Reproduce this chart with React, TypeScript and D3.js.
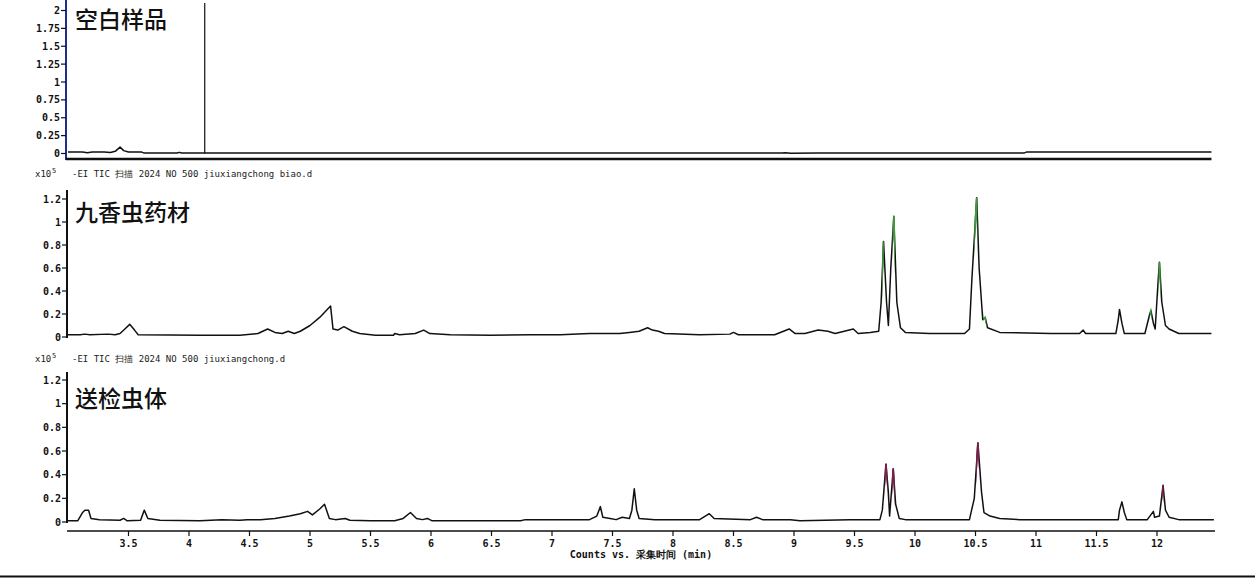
import React from 'react';
import * as d3 from 'd3';

// chromatogram traces, [time (min), counts x10^5]
const blankTrace: [number, number][] = [
  [3.0, 0.02], [3.12, 0.02], [3.16, 0.012], [3.2, 0.02], [3.3, 0.02], [3.35, 0.015],
  [3.39, 0.03], [3.43, 0.09], [3.46, 0.04], [3.5, 0.02], [3.61, 0.02], [3.63, 0.006],
  [3.9, 0.006], [3.92, 0.016], [3.94, 0.006], [8.9, 0.006], [8.93, 0.012], [8.97, 0.004],
  [9.2, 0.006], [10.9, 0.006], [10.92, 0.02], [12.45, 0.02],
];

const herbTrace: [number, number][] = [
  [3.0, 0.02], [3.1, 0.02], [3.14, 0.025], [3.18, 0.02], [3.33, 0.025], [3.39, 0.02],
  [3.43, 0.03], [3.47, 0.07], [3.51, 0.11], [3.55, 0.06], [3.58, 0.02], [4.09, 0.015],
  [4.42, 0.015], [4.57, 0.03], [4.65, 0.07], [4.71, 0.04], [4.77, 0.03], [4.82, 0.05],
  [4.87, 0.03], [4.92, 0.05], [5.0, 0.1], [5.08, 0.17], [5.17, 0.27], [5.19, 0.07],
  [5.23, 0.06], [5.28, 0.09], [5.35, 0.05], [5.41, 0.03], [5.54, 0.015], [5.69, 0.015],
  [5.7, 0.03], [5.74, 0.02], [5.87, 0.03], [5.94, 0.06], [5.99, 0.03], [6.16, 0.02],
  [6.49, 0.015], [6.82, 0.02], [7.07, 0.02], [7.31, 0.03], [7.56, 0.03], [7.64, 0.04],
  [7.72, 0.05], [7.79, 0.08], [7.83, 0.06], [7.88, 0.05], [7.93, 0.03], [8.22, 0.02],
  [8.47, 0.025], [8.5, 0.04], [8.54, 0.02], [8.84, 0.02], [8.96, 0.07], [9.01, 0.03],
  [9.09, 0.03], [9.2, 0.06], [9.28, 0.05], [9.34, 0.03], [9.49, 0.07], [9.53, 0.03],
  [9.63, 0.04], [9.7, 0.05], [9.72, 0.3], [9.74, 0.83], [9.765, 0.3], [9.78, 0.1],
  [9.8, 0.6], [9.825, 1.05], [9.85, 0.3], [9.88, 0.08], [9.92, 0.04], [10.12, 0.03],
  [10.41, 0.03], [10.45, 0.07], [10.47, 0.5], [10.51, 1.21], [10.53, 0.6], [10.56, 0.15],
  [10.58, 0.17], [10.6, 0.08], [10.7, 0.04], [11.12, 0.03], [11.36, 0.03], [11.39, 0.06],
  [11.41, 0.03], [11.66, 0.03], [11.68, 0.15], [11.69, 0.24], [11.71, 0.12], [11.73, 0.03],
  [11.9, 0.03], [11.94, 0.2], [11.95, 0.23], [11.97, 0.12], [11.985, 0.07], [12.01, 0.5],
  [12.02, 0.65], [12.04, 0.3], [12.07, 0.1], [12.1, 0.07], [12.18, 0.03], [12.45, 0.03],
];

const sampleTrace: [number, number][] = [
  [3.0, 0.01], [3.08, 0.01], [3.12, 0.08], [3.14, 0.1], [3.17, 0.1], [3.19, 0.03],
  [3.26, 0.02], [3.43, 0.015], [3.46, 0.03], [3.49, 0.01], [3.6, 0.015], [3.63, 0.1],
  [3.66, 0.03], [3.76, 0.015], [4.09, 0.01], [4.27, 0.02], [4.42, 0.015], [4.48, 0.02],
  [4.59, 0.02], [4.71, 0.03], [4.83, 0.05], [4.92, 0.07], [4.98, 0.09], [5.02, 0.06],
  [5.08, 0.11], [5.12, 0.15], [5.16, 0.03], [5.21, 0.02], [5.29, 0.03], [5.33, 0.015],
  [5.5, 0.01], [5.7, 0.01], [5.77, 0.03], [5.83, 0.08], [5.88, 0.03], [5.93, 0.02],
  [5.97, 0.03], [6.01, 0.01], [6.74, 0.01], [6.78, 0.02], [7.07, 0.02], [7.31, 0.02],
  [7.37, 0.05], [7.4, 0.13], [7.42, 0.04], [7.48, 0.03], [7.53, 0.02], [7.58, 0.04],
  [7.64, 0.03], [7.66, 0.1], [7.68, 0.28], [7.7, 0.1], [7.72, 0.03], [7.85, 0.02],
  [8.22, 0.02], [8.3, 0.07], [8.34, 0.03], [8.64, 0.02], [8.69, 0.04], [8.74, 0.02],
  [8.97, 0.02], [9.05, 0.01], [9.46, 0.02], [9.71, 0.02], [9.73, 0.1], [9.76, 0.49],
  [9.78, 0.25], [9.79, 0.05], [9.82, 0.45], [9.84, 0.15], [9.87, 0.03], [9.92, 0.02],
  [10.45, 0.02], [10.49, 0.2], [10.52, 0.67], [10.55, 0.25], [10.57, 0.08], [10.62, 0.05],
  [10.7, 0.03], [10.87, 0.02], [11.68, 0.02], [11.69, 0.1], [11.71, 0.17], [11.73, 0.08],
  [11.75, 0.02], [11.92, 0.02], [11.97, 0.09], [11.98, 0.04], [12.02, 0.05], [12.05, 0.31],
  [12.07, 0.1], [12.1, 0.04], [12.18, 0.02], [12.47, 0.02],
];

// time windows drawn in colour (identified compounds)
const herbMarked: [number, number][] = [
  [9.728, 9.742], [9.815, 9.835], [10.49, 10.515], [10.565, 10.59], [11.94, 11.955], [12.012, 12.03],
];
const sampleMarked: [number, number][] = [
  [9.75, 9.772], [9.81, 9.832], [10.505, 10.53], [12.04, 12.055],
];

const blankMarker = 4.13;

const blankTicks = [0, 0.25, 0.5, 0.75, 1, 1.25, 1.5, 1.75, 2];
const herbTicks = [0, 0.2, 0.4, 0.6, 0.8, 1, 1.2];
const timeTicks = [3.5, 4, 4.5, 5, 5.5, 6, 6.5, 7, 7.5, 8, 8.5, 9, 9.5, 10, 10.5, 11, 11.5, 12];

const W = 1255;
const H = 578;
const mono = '"DejaVu Sans Mono", "Liberation Mono", monospace';
const cjk = '"Noto Sans CJK SC", "Noto Sans", sans-serif';

const x = d3.scaleLinear().domain([3, 12.5]).range([68, 1217.5]);

type PanelProps = {
  trace: [number, number][];
  y: d3.ScaleLinear<number, number>;
  ticks: number[];
  axisX: number;
  axisTop: number;
  axisBottom: number;
  axisColor: string;
  title: string;
  titleY: number;
  marked?: [number, number][];
  markColor?: string;
  id: string;
};

const Panel: React.FC<PanelProps> = ({
  trace, y, ticks, axisX, axisTop, axisBottom, axisColor, title, titleY, marked, markColor, id,
}) => {
  const line = d3.line<[number, number]>()
    .x(d => x(d[0]))
    .y(d => y(d[1]));
  const d = line(trace) || '';
  return (
    <g>
      <line x1={axisX} x2={axisX} y1={axisTop} y2={axisBottom} stroke={axisColor} strokeWidth={2} />
      {ticks.map(t => (
        <g key={t} transform={`translate(0,${y(t)})`}>
          <line x1={axisX - 5} x2={axisX} stroke="#111" strokeWidth={1.2} />
          <text x={axisX - 6} dy="0.35em" textAnchor="end" fontFamily={mono} fontWeight="bold"
            fontSize={10} fill="#111">{String(t)}</text>
        </g>
      ))}
      <text x={75} y={titleY} fontFamily={cjk} fontSize={23} fontWeight={500} fill="#111">{title}</text>
      <path d={d} fill="none" stroke="#111" strokeWidth={1.5} strokeLinejoin="round" />
      {marked && (
        <>
          <clipPath id={id}>
            {marked.map(([a, b]) => (
              <rect key={a} x={x(a)} width={x(b) - x(a)} y={0} height={H} />
            ))}
          </clipPath>
          <path d={d} fill="none" stroke={markColor} strokeWidth={1.8} clipPath={`url(#${id})`} />
        </>
      )}
    </g>
  );
};

const Header: React.FC<{ y: number; file: string }> = ({ y, file }) => (
  <g fontFamily={mono} fontSize={9} fill="#222">
    <text x={35} y={y}>x10</text>
    <text x={52} y={y - 4} fontSize={7}>5</text>
    <text x={72} y={y}>{`-EI TIC 扫描 2024 NO 500 ${file}`}</text>
  </g>
);

export default function App() {
  const yBlank = d3.scaleLinear().domain([0, 2]).range([153.5, 10.5]);
  const yHerb = d3.scaleLinear().domain([0, 1.2]).range([337, 199]);
  const ySample = d3.scaleLinear().domain([0, 1.2]).range([522, 380]);
  const axisY = 531;

  return (
    <svg width={W} height={H} style={{ position: 'absolute', left: 0, top: 0, background: '#fff' }}>
      <rect width={W} height={H} fill="#fff" />

      {/* blank sample */}
      <Panel trace={blankTrace} y={yBlank} ticks={blankTicks} axisX={66} axisTop={0} axisBottom={160}
        axisColor="#1c2f8f" title="空白样品" titleY={28} id="c0" />
      <line x1={x(blankMarker)} x2={x(blankMarker)} y1={3} y2={yBlank(0)} stroke="#111" strokeWidth={1.2} />
      <line x1={66} x2={x(12.45)} y1={159} y2={159} stroke="#111" strokeWidth={2.5} />

      {/* herb */}
      <Header y={177} file="jiuxiangchong biao.d" />
      <Panel trace={herbTrace} y={yHerb} ticks={herbTicks} axisX={67} axisTop={190} axisBottom={338}
        axisColor="#111" title="九香虫药材" titleY={221} marked={herbMarked} markColor="#3f9b3a" id="c1" />

      {/* submitted sample */}
      <Header y={362} file="jiuxiangchong.d" />
      <Panel trace={sampleTrace} y={ySample} ticks={herbTicks} axisX={67} axisTop={372} axisBottom={523}
        axisColor="#111" title="送检虫体" titleY={407} marked={sampleMarked} markColor="#7a1f4c" id="c2" />

      {/* time axis */}
      <line x1={67} x2={1215} y1={axisY} y2={axisY} stroke="#111" strokeWidth={1.5} />
      {timeTicks.map(t => (
        <g key={t} transform={`translate(${x(t)},${axisY})`}>
          <line y1={0} y2={5} stroke="#111" strokeWidth={1.2} />
          <text y={16} textAnchor="middle" fontFamily={mono} fontWeight="bold" fontSize={10} fill="#111">
            {String(t)}
          </text>
        </g>
      ))}
      <text x={641} y={558} textAnchor="middle" fontFamily={mono} fontWeight="bold" fontSize={10} fill="#111">
        Counts vs. 采集时间 (min)
      </text>

      <line x1={0} x2={W} y1={576.5} y2={576.5} stroke="#111" strokeWidth={2} />
    </svg>
  );
}
